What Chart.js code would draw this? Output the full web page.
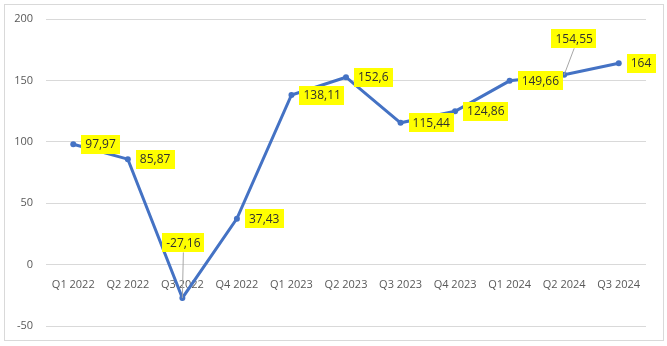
<!DOCTYPE html>
<html>
<head>
<meta charset="utf-8">
<script src="https://cdn.jsdelivr.net/npm/chart.js@4/dist/chart.umd.min.js"></script>
<style>
  html, body { margin: 0; padding: 0; background: #fff; }
  #box {
    position: absolute; left: 4px; top: 4px;
    width: 660px; height: 337px;
    box-sizing: border-box; border: 1px solid #d9d9d9;
  }
  canvas { display: block; }
</style>
</head>
<body>
<div id="box"><canvas id="chart" width="658" height="335"></canvas></div>
<script>
const quarters = ['Q1 2022', 'Q2 2022', 'Q3 2022', 'Q4 2022', 'Q1 2023', 'Q2 2023',
                  'Q3 2023', 'Q4 2023', 'Q1 2024', 'Q2 2024', 'Q3 2024'];
const values = [97.97, 85.87, -27.16, 37.43, 138.11, 152.6, 115.44, 124.86, 149.66, 154.55, 164];
const yTicks = [-50, 0, 50, 100, 150, 200];

// labels placed above the point with a leader line (others sit to the right)
const calloutLabels = { 2: { dx: 1, dy: -55 }, 9: { dx: 10, dy: -36 } };

function fmt(v) {
  return String(v).replace('.', ',');
}

const labelPlugin = {
  id: 'yellowLabels',
  afterDatasetsDraw(chart) {
    const ctx = chart.ctx;
    const meta = chart.getDatasetMeta(0);
    ctx.save();
    ctx.font = '12px "Open Sans"';
    ctx.textBaseline = 'middle';
    ctx.textAlign = 'center';
    meta.data.forEach((pt, i) => {
      const txt = fmt(values[i]);
      const w = ctx.measureText(txt).width + 8;
      const h = 19;
      let cx, cy;
      const c = calloutLabels[i];
      if (c) {
        cx = pt.x + c.dx;
        cy = pt.y + c.dy;
        ctx.strokeStyle = '#a6a6a6';
        ctx.lineWidth = 1;
        ctx.beginPath();
        ctx.moveTo(cx, cy + h / 2);
        ctx.lineTo(pt.x, pt.y);
        ctx.stroke();
      } else {
        cx = pt.x + 8 + w / 2;
        cy = pt.y;
      }
      ctx.fillStyle = '#ffff00';
      ctx.fillRect(Math.round(cx - w / 2), Math.round(cy - h / 2), Math.round(w), h);
      ctx.fillStyle = '#303030';
      ctx.fillText(txt, cx, cy + 0.5);
    });
    ctx.restore();
  }
};

new Chart(document.getElementById('chart'), {
  type: 'line',
  data: {
    labels: quarters,
    datasets: [{
      data: values,
      borderColor: '#4472c4',
      backgroundColor: '#4472c4',
      borderWidth: 3,
      pointRadius: 3,
      pointBorderWidth: 0,
      pointHoverRadius: 3,
      tension: 0
    }]
  },
  options: {
    responsive: false,
    animation: false,
    layout: { padding: { top: 14, right: 17, bottom: 14, left: 0 } },
    plugins: { legend: { display: false }, tooltip: { enabled: false } },
    scales: {
      x: {
        position: { y: 0 },
        offset: true,
        afterFit: (s) => { s.height = 0; },
        grid: { display: false },
        border: { display: false },
        ticks: { color: '#595959', font: { family: 'Open Sans', size: 11 }, padding: 6, maxRotation: 0 }
      },
      y: {
        min: yTicks[0],
        max: yTicks[yTicks.length - 1],
        afterBuildTicks: (s) => { s.ticks = yTicks.map(v => ({ value: v })); },
        afterFit: (s) => { s.width = 41; s.paddingTop = 0; s.paddingBottom = 0; },
        grid: { color: '#d9d9d9', lineWidth: 1, drawTicks: false },
        border: { display: false },
        ticks: { color: '#595959', font: { family: 'Open Sans', size: 11 }, padding: 13 }
      }
    }
  },
  plugins: [labelPlugin]
});
</script>
</body>
</html>
